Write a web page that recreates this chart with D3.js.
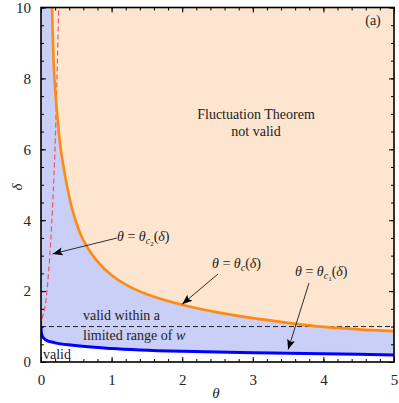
<!DOCTYPE html>
<html>
<head>
<meta charset="utf-8">
<script src="https://cdn.jsdelivr.net/npm/d3@7"></script>
<style>
  body { margin: 0; background: #fff; }
  svg, svg text { font-family: "Liberation Serif", "Tinos", "Times New Roman", Times, "DejaVu Serif", "Noto Serif", serif; }
</style>
</head>
<body>
<div id="chart"></div>
<script>
// theta_c(delta) - orange boundary
const orangeTheta = [0.156, 0.19, 0.25, 0.28, 0.41, 0.48, 0.595, 0.78, 1, 1.26, 1.6, 2.01, 2.5, 3.1, 4, 5];
const orangeDelta = [10, 8, 6.54, 6, 4.57, 4.05, 3.45, 2.88, 2.45, 2.12, 1.84, 1.61, 1.4, 1.21, 0.99, 0.87];

// theta_c1(delta) - blue boundary
const blueTheta = [0, 0.003, 0.02, 0.07, 0.2, 0.45, 1, 1.4, 2, 3, 3.5, 4, 5];
const blueDelta = [1, 0.85, 0.72, 0.62, 0.54, 0.47, 0.38, 0.34, 0.3, 0.26, 0.245, 0.23, 0.2];

// theta_c2(delta) - red dashed
const redTheta = [0, 0.02, 0.061, 0.108, 0.165, 0.203, 0.25];
const redDelta = [1, 1.25, 1.6, 2.55, 4.43, 6.3, 10];

const xTicks = [0, 1, 2, 3, 4, 5];
const yTicks = [0, 2, 4, 6, 8, 10];

const W = 399, H = 403;
const x = d3.scaleLinear().domain([0, 5]).range([41, 394]);
const y = d3.scaleLinear().domain([0, 10]).range([362, 7.5]);

const svg = d3.select("#chart").append("svg").attr("width", W).attr("height", H);

svg.append("defs").append("clipPath").attr("id", "plot")
  .append("rect").attr("x", x(0)).attr("y", y(10))
  .attr("width", x(5) - x(0)).attr("height", y(0) - y(10));

svg.append("defs").append("marker")
  .attr("id", "arr").attr("viewBox", "0 -5 10 10")
  .attr("refX", 10).attr("refY", 0).attr("orient", "auto")
  .attr("markerWidth", 13).attr("markerHeight", 10).attr("markerUnits", "userSpaceOnUse")
  .append("path").attr("d", "M0,-4L10,0L0,4L2,0Z").attr("fill", "#000");

const zip = (a, b) => a.map((v, i) => [v, b[i]]);
const orange = zip(orangeTheta, orangeDelta);
const blue = zip(blueTheta, blueDelta);
const red = zip(redTheta, redDelta);

const smooth = d3.curveCatmullRom.alpha(0.5);
const g = svg.append("g").attr("clip-path", "url(#plot)");

// valid-within-range area (above blue curve)
g.append("path")
  .datum(blue)
  .attr("fill", "#c9cff6")
  .attr("d", d3.area().curve(d3.curveMonotoneX)
    .x(d => x(d[0])).y0(y(10)).y1(d => y(d[1])));

// not valid area (above orange curve)
g.append("path")
  .datum(orange)
  .attr("fill", "#fee5cf")
  .attr("d", d3.area().curve(smooth)
    .x(d => x(d[0])).y0(y(10)).y1(d => y(d[1])));

const line = d3.line().curve(d3.curveMonotoneX).x(d => x(d[0])).y(d => y(d[1]));

// delta = 1 reference line
g.append("line")
  .attr("x1", x(0)).attr("x2", x(5)).attr("y1", y(1)).attr("y2", y(1))
  .attr("stroke", "#222").attr("stroke-width", 1).attr("stroke-dasharray", "5,3");

g.append("path").datum(red).attr("d", line)
  .attr("fill", "none").attr("stroke", "#ec5468").attr("stroke-width", 1.2)
  .attr("stroke-dasharray", "5,3");

g.append("path").datum(orange).attr("d", line.curve(smooth))
  .attr("fill", "none").attr("stroke", "#ff8a12").attr("stroke-width", 2.6);

g.append("path").datum(blue).attr("d", line.curve(d3.curveMonotoneX))
  .attr("fill", "none").attr("stroke", "#0000ff").attr("stroke-width", 3);

// axes, ticks inward on all four sides
const tickStyle = sel => {
  sel.attr("font-family", null);
  sel.select(".domain").remove();
  sel.selectAll("line").attr("stroke", "#000").attr("stroke-width", 1);
  sel.selectAll("text").attr("font-size", 15).attr("fill", "#222");
};
const xMinor = d3.range(0, 5.001, 0.2);
const yMinor = d3.range(0, 10.001, 0.5);

svg.append("g").attr("transform", `translate(0,${y(0)})`)
  .call(d3.axisBottom(x).tickValues(xMinor).tickSize(-3).tickFormat(""))
  .call(tickStyle);
svg.append("g").attr("transform", `translate(0,${y(0)})`)
  .call(d3.axisBottom(x).tickValues(xTicks).tickSize(-5).tickPadding(12).tickFormat(d3.format("d")))
  .call(tickStyle);
svg.append("g").attr("transform", `translate(0,${y(10)})`)
  .call(d3.axisTop(x).tickValues(xMinor).tickSize(-3).tickFormat(""))
  .call(tickStyle);
svg.append("g").attr("transform", `translate(0,${y(10)})`)
  .call(d3.axisTop(x).tickValues(xTicks).tickSize(-5).tickFormat(""))
  .call(tickStyle);

svg.append("g").attr("transform", `translate(${x(0)},0)`)
  .call(d3.axisLeft(y).tickValues(yMinor).tickSize(-3).tickFormat(""))
  .call(tickStyle);
svg.append("g").attr("transform", `translate(${x(0)},0)`)
  .call(d3.axisLeft(y).tickValues(yTicks).tickSize(-5).tickPadding(10).tickFormat(d3.format("d")))
  .call(tickStyle);
svg.append("g").attr("transform", `translate(${x(5)},0)`)
  .call(d3.axisRight(y).tickValues(yMinor).tickSize(-3).tickFormat(""))
  .call(tickStyle);
svg.append("g").attr("transform", `translate(${x(5)},0)`)
  .call(d3.axisRight(y).tickValues(yTicks).tickSize(-5).tickFormat(""))
  .call(tickStyle);

svg.append("rect")
  .attr("x", x(0)).attr("y", y(10))
  .attr("width", x(5) - x(0)).attr("height", y(0) - y(10))
  .attr("fill", "none").attr("stroke", "#000").attr("stroke-width", 1.6);

// axis titles
svg.append("text").attr("x", 216).attr("y", 398).attr("text-anchor", "middle")
  .attr("font-size", 15).attr("font-style", "italic").attr("fill", "#222").text("θ");
svg.append("text").attr("transform", "translate(22,187) rotate(-90)").attr("text-anchor", "middle")
  .attr("font-size", 15).attr("font-style", "italic").attr("fill", "#222").text("δ");

// annotations
const txt = (tx, ty, s, anchor) => svg.append("text")
  .attr("x", tx).attr("y", ty).attr("font-size", 14).attr("fill", "#222")
  .attr("text-anchor", anchor || "start").text(s);

txt(373, 25, "(a)", "middle");
txt(256, 119, "Fluctuation Theorem", "middle");
txt(256, 136, "not valid", "middle");
txt(83, 320, "valid within a");
const lr = txt(83, 340, "limited range of ");
lr.append("tspan").attr("font-style", "italic").text("w");
txt(43, 359, "valid");

function thetaLabel(tx, ty, sub, subsub) {
  const t = svg.append("text").attr("x", tx).attr("y", ty)
    .attr("font-size", 14).attr("fill", "#222");
  t.append("tspan").attr("font-style", "italic").text("θ");
  t.append("tspan").text(" = ");
  t.append("tspan").attr("font-style", "italic").text("θ");
  t.append("tspan").attr("font-style", "italic").attr("font-size", 10).attr("dy", 3).text(sub);
  let back = -3;
  if (subsub) {
    t.append("tspan").attr("font-size", 7).attr("dy", 2).text(subsub);
    back = -5;
  }
  t.append("tspan").attr("dy", back).text("(");
  t.append("tspan").attr("font-style", "italic").text("δ");
  t.append("tspan").text(")");
}

thetaLabel(117, 241, "c", "2");
thetaLabel(212, 268, "c", null);
thetaLabel(295, 276, "c", "1");

const arrow = (x1, y1, x2, y2) => svg.append("line")
  .attr("x1", x1).attr("y1", y1).attr("x2", x2).attr("y2", y2)
  .attr("stroke", "#000").attr("stroke-width", 0.8).attr("marker-end", "url(#arr)");

arrow(117, 238, x(0.165), y(3.05));
arrow(218, 274, x(2.0), y(1.63));
arrow(309, 283, x(3.5), y(0.35));
</script>
</body>
</html>
